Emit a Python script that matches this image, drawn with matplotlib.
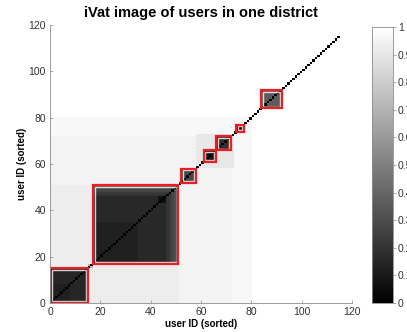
import numpy as np
import matplotlib
matplotlib.use("Agg")
import matplotlib.pyplot as plt
from matplotlib.patches import Rectangle

plt.rcParams["font.family"] = ["Liberation Sans", "DejaVu Sans"]

# iVAT dissimilarity image, users reordered by VAT
n_users = 115

# background level by max(row, col) index of the reordered users
zone_edges = [51, 72, 80]
zone_levels = [0.928, 0.957, 0.972, 1.0]

# slightly darker off-cluster patches
patch_lo = [58, 15]
patch_hi = [73, 17]
patch_levels = [0.91, 0.72]

# detected clusters (boxed in red)
cluster_lo = [0, 17, 52, 61, 66, 74, 84]
cluster_hi = [15, 51, 58, 66, 72, 77, 92]
cluster_levels = [0.15, 0.16, 0.28, 0.09, 0.19, 0.14, 0.36]

# tighter groups inside the clusters
sub_lo = [0, 18, 43]
sub_hi = [8, 35, 46]
sub_levels = [0.125, 0.125, 0.07]

# outer users of the big cluster fade towards the background
ramp_users = [46, 47, 48, 49, 50]
ramp_levels = [0.20, 0.23, 0.27, 0.31, 0.36]

cbar_ticks = [0, 0.1, 0.2, 0.3, 0.4, 0.5, 0.6, 0.7, 0.8, 0.9, 1]
axis_ticks = [0, 20, 40, 60, 80, 100, 120]


def build_ivat():
    idx = np.arange(n_users)
    far = np.maximum.outer(idx, idx)
    D = np.array(zone_levels)[np.searchsorted(zone_edges, far, side="right")]
    for lo, hi, v in zip(patch_lo, patch_hi, patch_levels):
        D[lo:hi, lo:hi] = v
    for lo, hi, v in zip(cluster_lo, cluster_hi, cluster_levels):
        D[lo:hi, lo:hi] = v
    for lo, hi, v in zip(sub_lo, sub_hi, sub_levels):
        D[lo:hi, lo:hi] = v
    lo, hi = cluster_lo[1], cluster_hi[1]
    for u, v in zip(ramp_users, ramp_levels):
        D[lo:u + 1, u] = np.maximum(D[lo:u + 1, u], v)
        D[u, lo:u + 1] = np.maximum(D[u, lo:u + 1], v)
    np.fill_diagonal(D, 0.0)
    return D


D = build_ivat()

fig = plt.figure(figsize=(4.07, 3.32), dpi=100)
ax = fig.add_axes([0.1229, 0.0873, 0.742, 0.837])
cax = fig.add_axes([0.914, 0.0873, 0.0516, 0.831])

im = ax.imshow(D, cmap="gray", vmin=0, vmax=1, origin="lower",
               extent=[0, n_users, 0, n_users], aspect="auto",
               interpolation="nearest")

for lo, hi in zip(cluster_lo, cluster_hi):
    w = hi - lo
    ax.add_patch(Rectangle((lo + 0.7, lo + 0.7), w - 1.4, w - 1.4, fill=False,
                           ec="white", lw=1.0, alpha=0.8))
    ax.add_patch(Rectangle((lo, lo), w, w, fill=False, ec="#ee1c24", lw=1.6))

ax.set_xlim(0, 120)
ax.set_ylim(0, 120)
ax.set_xticks(axis_ticks)
ax.set_yticks(axis_ticks)
for s in ["top", "right"]:
    ax.spines[s].set_visible(False)
for s in ["left", "bottom"]:
    ax.spines[s].set_color("#8c8c8c")
    ax.spines[s].set_linewidth(0.6)
ax.tick_params(direction="in", length=2.5, width=0.5, color="#8c8c8c",
               labelsize=7.5, labelcolor="#333333", pad=3)

ax.set_title("iVat image of users in one district", fontsize=10.5,
             fontweight="bold", pad=6)
ax.set_xlabel("user ID (sorted)", fontsize=7, fontweight="bold", labelpad=1)
ax.set_ylabel("user ID (sorted)", fontsize=7, fontweight="bold", labelpad=1)

cb = fig.colorbar(im, cax=cax, ticks=cbar_ticks)
cb.ax.set_yticklabels([f"{t:g}" for t in cbar_ticks])
cb.outline.set_edgecolor("#8c8c8c")
cb.outline.set_linewidth(0.6)
cb.ax.tick_params(direction="out", length=2, width=0.5, color="#8c8c8c",
                  labelsize=7.5, labelcolor="#333333", pad=1.5)

fig.savefig("out.png", dpi=100)
